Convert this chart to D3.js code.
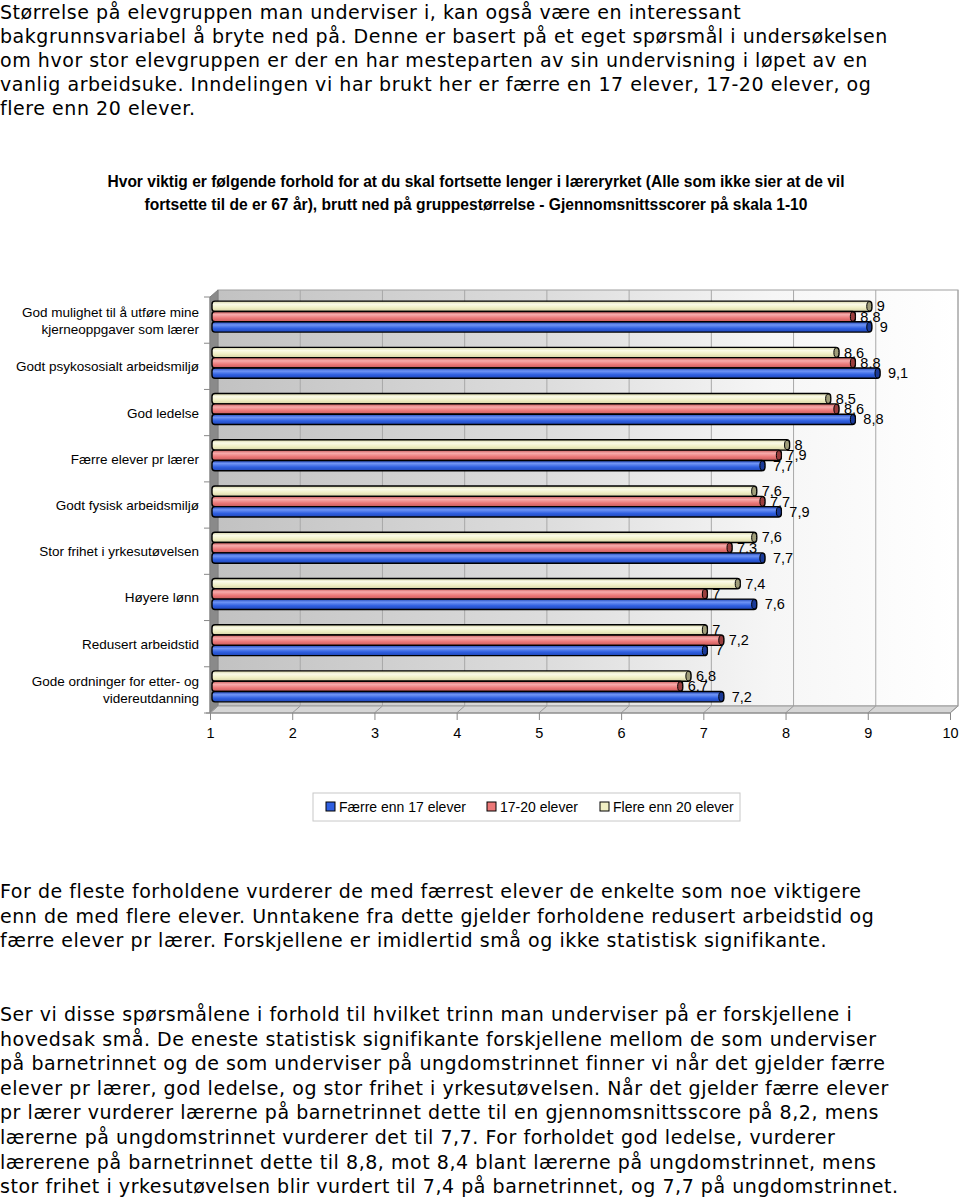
<!DOCTYPE html>
<html><head><meta charset="utf-8">
<script src="https://cdn.jsdelivr.net/npm/d3@7"></script>
<style>body{margin:0;background:#fff}svg{display:block}</style>
</head><body>
<svg id="c" width="960" height="1199"></svg>
<script>
// ---- data ----
const categories = [
  "God mulighet til å utføre mine|kjerneoppgaver som lærer",
  "Godt psykososialt arbeidsmiljø",
  "God ledelse",
  "Færre elever pr lærer",
  "Godt fysisk arbeidsmiljø",
  "Stor frihet i yrkesutøvelsen",
  "Høyere lønn",
  "Redusert arbeidstid",
  "Gode ordninger for etter- og|videreutdanning"
];
const seriesNames = ["Færre enn 17 elever", "17-20 elever", "Flere enn 20 elever"];
const faerreEnn17 = [9, 9.1, 8.8, 7.7, 7.9, 7.7, 7.6, 7, 7.2];
const elever17til20 = [8.8, 8.8, 8.6, 7.9, 7.7, 7.3, 7, 7.2, 6.7];
const flereEnn20 = [9, 8.6, 8.5, 8, 7.6, 7.6, 7.4, 7, 6.8];
const xTicks = [1,2,3,4,5,6,7,8,9,10];

const para1 = [
  "Størrelse på elevgruppen man underviser i, kan også være en interessant",
  "bakgrunnsvariabel å bryte ned på. Denne er basert på et eget spørsmål i undersøkelsen",
  "om hvor stor elevgruppen er der en har mesteparten av sin undervisning i løpet av en",
  "vanlig arbeidsuke. Inndelingen vi har brukt her er færre en 17 elever, 17-20 elever, og",
  "flere enn 20 elever."
];
const titleLines = [
  "Hvor viktig er følgende forhold for at du skal fortsette lenger i læreryrket (Alle som ikke sier at de vil",
  "fortsette til de er 67 år), brutt ned på gruppestørrelse - Gjennomsnittsscorer på skala 1-10"
];
const para2 = [
  "For de fleste forholdene vurderer de med færrest elever de enkelte som noe viktigere",
  "enn de med flere elever. Unntakene fra dette gjelder forholdene redusert arbeidstid og",
  "færre elever pr lærer. Forskjellene er imidlertid små og ikke statistisk signifikante."
];
const para3 = [
  "Ser vi disse spørsmålene i forhold til hvilket trinn man underviser på er forskjellene i",
  "hovedsak små. De eneste statistisk signifikante forskjellene mellom de som underviser",
  "på barnetrinnet og de som underviser på ungdomstrinnet finner vi når det gjelder færre",
  "elever pr lærer, god ledelse, og stor frihet i yrkesutøvelsen. Når det gjelder færre elever",
  "pr lærer vurderer lærerne på barnetrinnet dette til en gjennomsnittsscore på 8,2, mens",
  "lærerne på ungdomstrinnet vurderer det til 7,7. For forholdet god ledelse, vurderer",
  "lærerene på barnetrinnet dette til 8,8, mot 8,4 blant lærerne på ungdomstrinnet, mens",
  "stor frihet i yrkesutøvelsen blir vurdert til 7,4 på barnetrinnet, og 7,7 på ungdomstrinnet."
];

// ---- drawing ----
const svg = d3.select("#c");
const defs = svg.append("defs");
const bodyFont = "'DejaVu Sans', Verdana, sans-serif";
const chartFont = "'Liberation Sans', Arial, sans-serif";

function paragraph(lines, y0, step) {
  svg.append("g").selectAll("text").data(lines).join("text")
    .attr("x", 0).attr("y", (d, i) => y0 + i * step)
    .attr("font-family", bodyFont).attr("font-size", 19).attr("letter-spacing", 0.55)
    .attr("fill", "#000")
    .text(d => d);
}
paragraph(para1, 19, 24);
paragraph(para2, 898, 24.6);
paragraph(para3, 1021, 24.6);

// title
const tW = [737, 663];
svg.append("g").selectAll("text").data(titleLines).join("text")
  .attr("x", 476).attr("y", (d, i) => 187 + i * 23)
  .attr("text-anchor", "middle")
  .attr("font-family", "'Liberation Sans Narrow', 'Arial Narrow', " + chartFont)
  .attr("font-weight", "bold").attr("font-size", 16)
  .attr("textLength", (d, i) => tW[i]).attr("lengthAdjust", "spacingAndGlyphs")
  .text(d => d);

// scales
const x = d3.scaleLinear().domain([1, 10]).range([210, 950]);
const y = d3.scaleBand().domain(categories).range([297, 713]).paddingInner(0.33).paddingOuter(0.165);
const seriesOrder = ["flere", "mid", "faerre"];
const ys = d3.scaleBand().domain(seriesOrder).range([0, y.bandwidth()]);
const DX = 8, DY = -7;   // depth offset of back wall
const top0 = 297 + DY, bot = 713;

// back wall gradient
const wg = defs.append("linearGradient").attr("id", "wall").attr("x1", 0).attr("x2", 1).attr("y1", 0).attr("y2", 0);
wg.append("stop").attr("offset", "0%").attr("stop-color", "#c2c2c2");
wg.append("stop").attr("offset", "45%").attr("stop-color", "#dddddd");
wg.append("stop").attr("offset", "75%").attr("stop-color", "#f6f6f6");
wg.append("stop").attr("offset", "100%").attr("stop-color", "#ffffff");

svg.append("rect").attr("x", x(1) + DX).attr("y", top0)
  .attr("width", x(10) - x(1)).attr("height", bot + DY - top0)
  .attr("fill", "url(#wall)").attr("stroke", "#a0a0a0").attr("stroke-width", 1);

// gridlines on back wall
svg.append("g").selectAll("line").data(xTicks.slice(1)).join("line")
  .attr("x1", d => x(d) + DX).attr("x2", d => x(d) + DX)
  .attr("y1", top0).attr("y2", bot + DY)
  .attr("stroke", "#a8a8a8").attr("stroke-width", 1);

// left wall
svg.append("polygon")
  .attr("points", [[x(1), 297], [x(1) + DX, top0], [x(1) + DX, bot + DY], [x(1), bot]].join(" "))
  .attr("fill", "#8a8a8a").attr("stroke", "#808080");

// floor
svg.append("polygon")
  .attr("points", [[x(1), bot], [x(10), bot], [x(10) + DX, bot + DY], [x(1) + DX, bot + DY]].join(" "))
  .attr("fill", "#d6d6d6").attr("stroke", "#999");
svg.append("g").selectAll("line").data(xTicks).join("line")
  .attr("x1", d => x(d) + DX).attr("y1", bot + DY).attr("x2", d => x(d)).attr("y2", bot)
  .attr("stroke", "#999");

// front axis lines
svg.append("line").attr("x1", x(1)).attr("x2", x(1)).attr("y1", 297).attr("y2", bot).attr("stroke", "#888");
svg.append("line").attr("x1", x(1) - 4).attr("x2", x(10)).attr("y1", bot).attr("y2", bot).attr("stroke", "#888");
// left ticks at band boundaries
const bounds = categories.map(c => y(c) - y.step() * y.paddingInner() / 2).concat([bot]);
bounds[0] = 297;
svg.append("g").selectAll("line").data(bounds).join("line")
  .attr("x1", x(1) - 6).attr("x2", x(1)).attr("y1", d => d).attr("y2", d => d)
  .attr("stroke", "#888");

// x axis
const xAxis = svg.append("g").attr("transform", `translate(0,${bot})`)
  .call(d3.axisBottom(x).tickValues(xTicks).tickFormat(d3.format("d")).tickSize(7).tickPadding(8));
xAxis.select(".domain").remove();
xAxis.selectAll(".tick line").attr("stroke", "#888");
xAxis.selectAll("text").attr("font-family", chartFont).attr("font-size", 14.5).attr("fill", "#000");

// y labels
const yl = svg.append("g");
categories.forEach(c => {
  const lines = c.split("|");
  const cy = y(c) + y.bandwidth() / 2;
  const t = yl.append("text").attr("x", 199).attr("text-anchor", "end")
    .attr("font-family", chartFont).attr("font-size", 13.5).attr("fill", "#000");
  lines.forEach((ln, i) => {
    t.append("tspan").attr("x", 199).attr("y", cy + 5 + (i - (lines.length - 1) / 2) * 17).text(ln);
  });
});

// bar gradients
const palette = {
  faerre: {base: "#2f5fe0", light: "#6f94f5", dark: "#1f46b8", cap: "#1a3a98"},
  mid:    {base: "#eb7878", light: "#f7abab", dark: "#c85a5a", cap: "#9a3e3e"},
  flere:  {base: "#f0efc4", light: "#fbfbe8", dark: "#d4d2a4", cap: "#a09e7a"}
};
Object.entries(palette).forEach(([k, p]) => {
  const g = defs.append("linearGradient").attr("id", "g_" + k).attr("x1", 0).attr("x2", 0).attr("y1", 0).attr("y2", 1);
  g.append("stop").attr("offset", "0%").attr("stop-color", p.dark);
  g.append("stop").attr("offset", "30%").attr("stop-color", p.light);
  g.append("stop").attr("offset", "65%").attr("stop-color", p.base);
  g.append("stop").attr("offset", "100%").attr("stop-color", p.dark);
});

const rows = [];
categories.forEach((c, i) => {
  rows.push({cat: c, s: "flere", v: flereEnn20[i]});
  rows.push({cat: c, s: "mid", v: elever17til20[i]});
  rows.push({cat: c, s: "faerre", v: faerreEnn17[i]});
});
const bdx = DX / 2, bdy = DY / 2;
const bh = ys.bandwidth();
const bars = svg.append("g").selectAll("g").data(rows).join("g");
bars.append("rect")
  .attr("x", x(1) + 2)
  .attr("y", d => y(d.cat) + ys(d.s) + bdy)
  .attr("width", d => x(d.v) + bdx - x(1) - 2)
  .attr("height", bh)
  .attr("rx", 3).attr("ry", 3)
  .attr("fill", d => `url(#g_${d.s})`)
  .attr("stroke", "#000").attr("stroke-width", 1.4);
bars.append("ellipse")
  .attr("cx", d => x(d.v) + bdx - 2.5)
  .attr("cy", d => y(d.cat) + ys(d.s) + bdy + bh / 2)
  .attr("rx", 2.5).attr("ry", bh / 2 - 0.5)
  .attr("fill", d => palette[d.s].cap).attr("stroke", "#000").attr("stroke-width", 1);
const labelDx = {flere: 5, mid: 5, faerre: 8};
bars.append("text")
  .attr("x", d => x(d.v) + bdx + labelDx[d.s])
  .attr("y", d => y(d.cat) + ys(d.s) + bdy + bh / 2 + 5)
  .attr("font-family", chartFont).attr("font-size", 14.5).attr("fill", "#000")
  .text(d => String(d.v).replace(".", ","));

// legend
const lg = svg.append("g");
lg.append("rect").attr("x", 313).attr("y", 793).attr("width", 427).attr("height", 28)
  .attr("fill", "#fff").attr("stroke", "#c8c8c8");
const legendKeys = ["faerre", "mid", "flere"];
const legendX = [326, 487, 600];
legendKeys.forEach((k, i) => {
  lg.append("rect").attr("x", legendX[i]).attr("y", 802).attr("width", 9).attr("height", 9)
    .attr("fill", palette[k].base).attr("stroke", "#000");
  lg.append("text").attr("x", legendX[i] + 13).attr("y", 812)
    .attr("font-family", chartFont).attr("font-size", 14).attr("fill", "#000")
    .text(seriesNames[i]);
});
</script>
</body></html>
